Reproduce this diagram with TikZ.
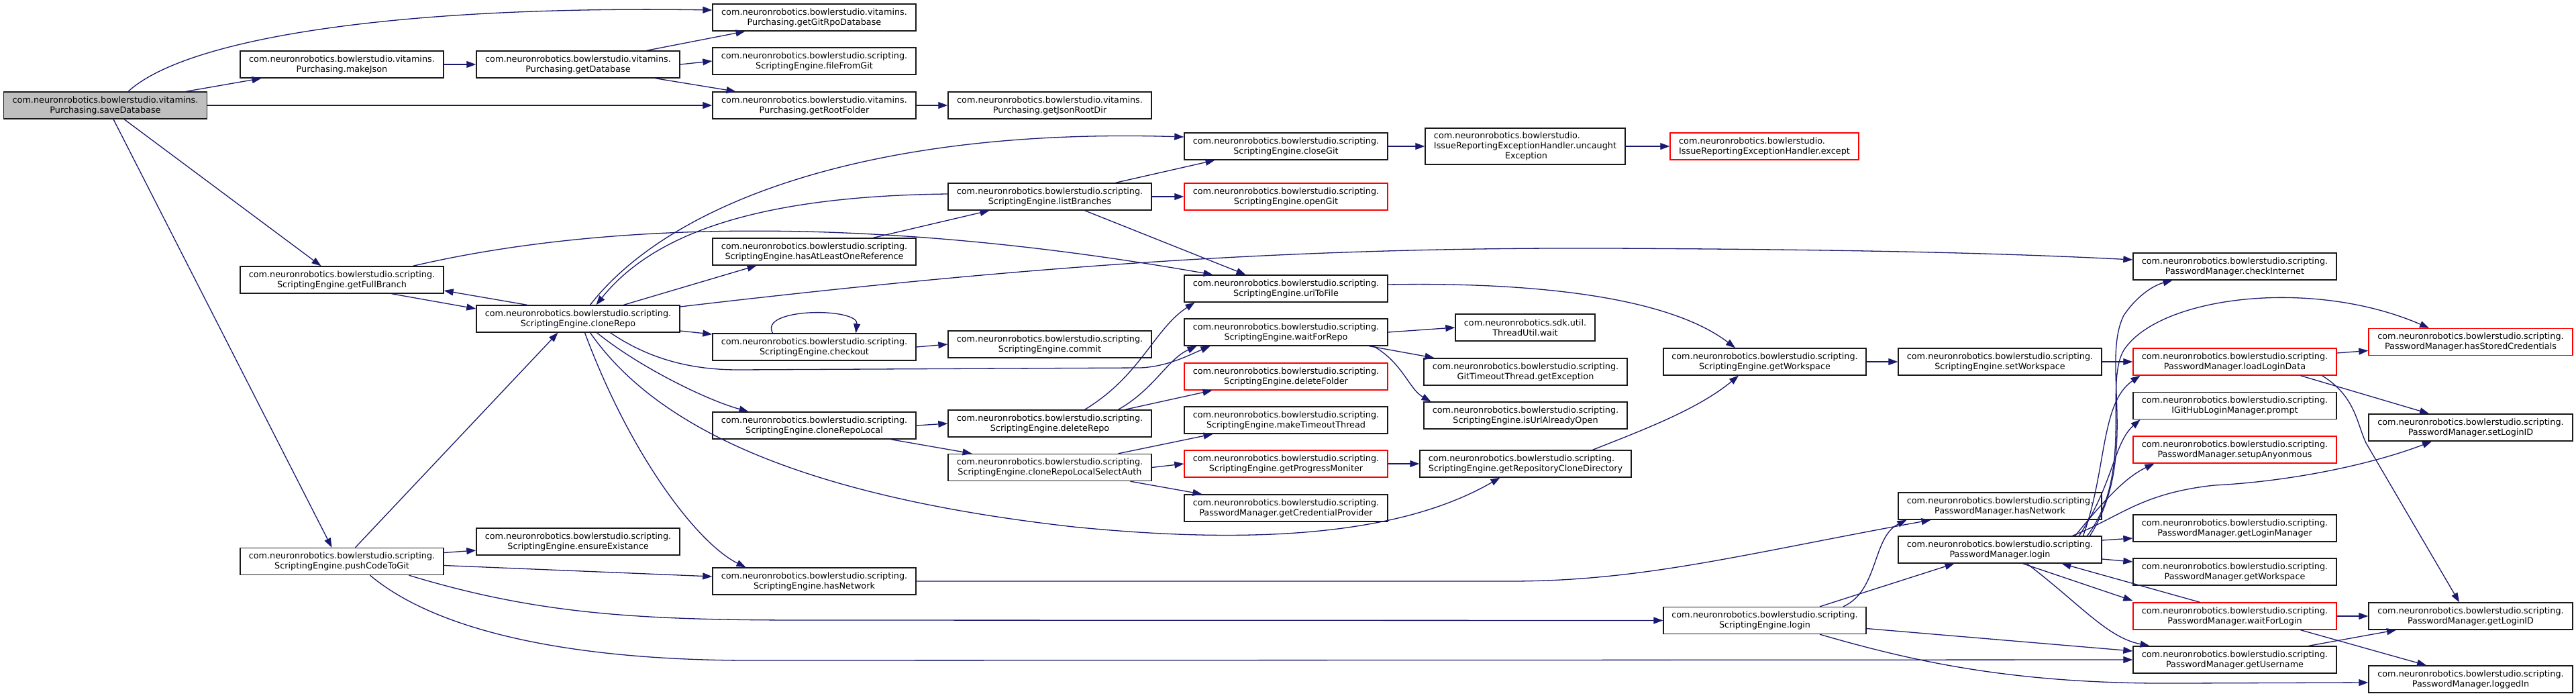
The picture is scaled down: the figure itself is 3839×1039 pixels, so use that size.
\documentclass[tikz,border=0pt]{standalone}
\usepackage{fontspec}
\setmainfont{DejaVu Sans}
\usepackage{tikz}
\usetikzlibrary{arrows.meta}
\definecolor{callblue}{HTML}{191970}
\definecolor{cutred}{HTML}{FF0000}
\definecolor{rootgray}{HTML}{BFBFBF}
\newcommand{\nrs}{com.neuronrobotics.bowlerstudio.scripting.}
\newcommand{\nrv}{com.neuronrobotics.bowlerstudio.vitamins.}

\begin{document}
\begin{tikzpicture}[x=1pt,y=-1pt,
  fn/.style={draw=black!90,fill=white,line width=1.4pt,minimum width=303pt,minimum height=40pt,inner sep=2pt,align=center,font=\fontsize{12.8}{15}\selectfont},
  cut/.style={fn,draw=cutred},
  call/.style={draw=callblue,line width=1.3pt,-{Triangle[length=14pt,width=10pt]}}]
\useasboundingbox (0,0) rectangle (3839,1039);
\node[fn,fill=rootgray] (sd) at (157,157) {\nrv\\Purchasing.saveDatabase};
\node[fn] (mj) at (509.5,96) {\nrv\\Purchasing.makeJson};
\node[fn] (gfb) at (509.5,417) {\nrs\\ScriptingEngine.getFullBranch};
\node[fn] (pc) at (509.5,836.5) {\nrs\\ScriptingEngine.pushCodeToGit};
\node[fn] (gdb) at (861.5,96) {\nrv\\Purchasing.getDatabase};
\node[fn] (cr) at (861.5,475) {\nrs\\ScriptingEngine.cloneRepo};
\node[fn] (ee) at (861.5,807) {\nrs\\ScriptingEngine.ensureExistance};
\node[fn] (grd) at (1213.5,26) {\nrv\\Purchasing.getGitRpoDatabase};
\node[fn] (ffg) at (1213.5,91) {\nrs\\ScriptingEngine.fileFromGit};
\node[fn] (grf) at (1213.5,157) {\nrv\\Purchasing.getRootFolder};
\node[fn] (hal) at (1213.5,375) {\nrs\\ScriptingEngine.hasAtLeastOneReference};
\node[fn] (co) at (1213.5,517) {\nrs\\ScriptingEngine.checkout};
\node[fn] (crl) at (1213.5,634) {\nrs\\ScriptingEngine.cloneRepoLocal};
\node[fn] (shn) at (1213.5,866) {\nrs\\ScriptingEngine.hasNetwork};
\node[fn] (gjr) at (1564.5,157) {\nrv\\Purchasing.getJsonRootDir};
\node[fn] (lb) at (1564.5,293) {\nrs\\ScriptingEngine.listBranches};
\node[fn] (cm) at (1564.5,513) {\nrs\\ScriptingEngine.commit};
\node[fn] (dr) at (1564.5,631) {\nrs\\ScriptingEngine.deleteRepo};
\node[fn] (csa) at (1564.5,696.5) {\nrs\\ScriptingEngine.cloneRepoLocalSelectAuth};
\node[fn] (cg) at (1916.5,218) {\nrs\\ScriptingEngine.closeGit};
\node[cut] (og) at (1916.5,293) {\nrs\\ScriptingEngine.openGit};
\node[fn] (utf) at (1916.5,430) {\nrs\\ScriptingEngine.uriToFile};
\node[fn] (wfr) at (1916.5,495) {\nrs\\ScriptingEngine.waitForRepo};
\node[cut] (df) at (1916.5,561) {\nrs\\ScriptingEngine.deleteFolder};
\node[fn] (mtt) at (1916.5,626) {\nrs\\ScriptingEngine.makeTimeoutThread};
\node[cut] (gpm) at (1916.5,691) {\nrs\\ScriptingEngine.getProgressMoniter};
\node[fn] (gcp) at (1916.5,757) {\nrs\\PasswordManager.getCredentialProvider};
\node[fn,minimum width=298pt,minimum height=54pt,align=left] (ue) at (2273,218) {com.neuronrobotics.bowlerstudio.\\IssueReportingExceptionHandler.uncaught\\\hspace*{106pt}Exception};
\node[fn,minimum width=208pt] (tw) at (2273,488) {com.neuronrobotics.sdk.util.\\ThreadUtil.wait};
\node[fn] (gex) at (2273.5,554) {\nrs\\GitTimeoutThread.getException};
\node[fn] (iuo) at (2273.5,619) {\nrs\\ScriptingEngine.isUrlAlreadyOpen};
\node[fn,minimum width=315pt,align=left] (grcd) at (2273.5,691) {\nrs\\ScriptingEngine.getRepositoryCloneDirectory};
\node[cut,minimum width=281pt,align=left] (exc) at (2629.5,218) {com.neuronrobotics.bowlerstudio.\\IssueReportingExceptionHandler.except};
\node[fn,minimum width=302pt] (sgw) at (2630,539) {\nrs\\ScriptingEngine.getWorkspace};
\node[fn,minimum width=302pt] (sel) at (2630,924.5) {\nrs\\ScriptingEngine.login};
\node[fn] (sws) at (2980.5,539) {\nrs\\ScriptingEngine.setWorkspace};
\node[fn] (pmhn) at (2980.5,754) {\nrs\\PasswordManager.hasNetwork};
\node[fn] (pml) at (2980.5,819) {\nrs\\PasswordManager.login};
\node[fn] (ci) at (3330.5,397) {\nrs\\PasswordManager.checkInternet};
\node[cut] (lld) at (3330.5,539) {\nrs\\PasswordManager.loadLoginData};
\node[fn] (pr) at (3330.5,604.5) {\nrs\\IGitHubLoginManager.prompt};
\node[cut] (sa) at (3330.5,670) {\nrs\\PasswordManager.setupAnyonmous};
\node[fn] (glm) at (3330.5,787) {\nrs\\PasswordManager.getLoginManager};
\node[fn] (pgw) at (3330.5,852) {\nrs\\PasswordManager.getWorkspace};
\node[cut] (wfl) at (3330.5,918) {\nrs\\PasswordManager.waitForLogin};
\node[fn] (gu) at (3330.5,983) {\nrs\\PasswordManager.getUsername};
\node[cut,minimum width=304pt] (hsc) at (3682,509.5) {\nrs\\PasswordManager.hasStoredCredentials};
\node[fn,minimum width=304pt] (sli) at (3682,637) {\nrs\\PasswordManager.setLoginID};
\node[fn,minimum width=304pt] (gli) at (3682,918) {\nrs\\PasswordManager.getLoginID};
\node[fn,minimum width=304pt] (li) at (3682,1012) {\nrs\\PasswordManager.loggedIn};

\draw[call] ([xshift=34pt]sd.north) .. controls (280,55) and (600,8) .. ([yshift=11pt]grd.west);
\draw[call] ([xshift=120pt]sd.north) -- ([xshift=-120pt]mj.south);
\draw[call] (sd.east) -- (grf.west);
\draw[call] ([xshift=28pt]sd.south) -- ([xshift=-31pt]gfb.north);
\draw[call] ([xshift=12pt]sd.south) -- ([xshift=-15pt]pc.north);
\draw[call] (mj.east) -- (gdb.west);
\draw[call] ([xshift=102pt]gdb.north) -- ([xshift=-103pt]grd.south);
\draw[call] (gdb.east) -- (ffg.west);
\draw[call] ([xshift=115pt]gdb.south) -- ([xshift=-117pt]grf.north);
\draw[call] (grf.east) -- (gjr.west);
\draw[call] ([xshift=74pt]gfb.south) -- ([yshift=15pt]cr.west);
\draw[call] ([xshift=-76pt]cr.north) -- ([yshift=-16pt]gfb.east);
\draw[call] ([xshift=106pt]gfb.north) .. controls (900,330) and (1300,320) .. ([xshift=-109pt]utf.north);
\draw[call] ([xshift=18pt]cr.north) .. controls (1000,300) and (1300,190) .. ([yshift=14pt]cg.west);
\draw[call] ([yshift=4pt]lb.west) .. controls (1150,292) and (980,340) .. ([xshift=27pt]cr.north);
\draw[call] ([xshift=68pt]cr.north) -- ([xshift=-86pt]hal.south);
\draw[call] ([xshift=88pt]hal.north) -- ([xshift=-90pt]lb.south);
\draw[call] ([xshift=98pt]lb.north) -- ([xshift=-106pt]cg.south);
\draw[call] (lb.east) -- (og.west);
\draw[call] ([xshift=52pt]lb.south) -- ([xshift=-60pt]utf.north);
\draw[call] ([yshift=18pt]cr.east) .. controls (1500,400) and (1900,368) .. (2400,370) .. controls (2800,372) and (3000,378) .. ([yshift=10pt]ci.west);
\draw[call] ([yshift=-18pt]cr.east) -- ([yshift=19pt]co.west);
\draw[call] ([xshift=-62pt]co.north) .. controls (1130,458) and (1280,458) .. ([xshift=62pt]co.north);
\draw[call] (co.east) -- (cm.west);
\draw[call] ([xshift=48pt]cr.south) .. controls (960,530) and (1020,551) .. (1100,551) -- (1700,548) .. controls (1740,546) and (1770,530) .. ([xshift=-113pt]wfr.south);
\draw[call] ([xshift=28pt]cr.south) .. controls (950,545) and (1050,595) .. ([xshift=-98pt]crl.north);
\draw[call] ([xshift=18pt]cr.south) .. controls (980,640) and (1200,740) .. (1600,785) .. controls (1900,815) and (2100,790) .. ([xshift=-38pt]grcd.south);
\draw[call] ([xshift=10pt]cr.south) .. controls (940,680) and (1040,810) .. ([xshift=-102pt]shn.north);
\draw[call] ([xshift=20pt]pc.north) -- ([xshift=-30pt]cr.south);
\draw[call] ([yshift=13pt]pc.east) -- ([yshift=-13pt]ee.west);
\draw[call] ([yshift=-6pt]pc.east) -- ([yshift=7pt]shn.west);
\draw[call] ([xshift=100pt]pc.south) .. controls (800,915) and (950,924) .. (1200,924) -- (sel.west);
\draw[call] ([xshift=42pt]pc.south) .. controls (650,940) and (850,985) .. (1130,984) -- (gu.west);
\draw[call] (shn.east) -- (2250,866) .. controls (2450,866) and (2600,825) .. ([xshift=-103pt]pmhn.south);
\draw[call] ([xshift=117pt]sel.north) .. controls (2800,880) and (2790,800) .. ([xshift=-139pt]pmhn.south);
\draw[call] ([xshift=82pt]sel.north) -- ([xshift=-68pt]pml.south);
\draw[call] ([yshift=-12pt]sel.east) -- ([yshift=13pt]gu.west);
\draw[call] ([xshift=82pt]sel.south) .. controls (2850,985) and (3000,1020) .. (3250,1018) -- ([yshift=-5pt]li.west);
\draw[call] ([xshift=134pt]pml.north) .. controls (3190,680) and (3130,540) .. (3165,470) .. controls (3185,440) and (3210,425) .. ([xshift=-93pt]ci.south);
\draw[call] ([xshift=130pt]pml.north) .. controls (3185,700) and (3130,560) .. (3170,515) .. controls (3230,440) and (3450,415) .. ([xshift=-62pt]hsc.north);
\draw[call] ([xshift=124pt]pml.north) .. controls (3140,700) and (3130,600) .. ([xshift=-141pt]lld.south);
\draw[call] ([xshift=118pt]pml.north) .. controls (3150,720) and (3150,660) .. ([xshift=-141pt]pr.south);
\draw[call] ([xshift=112pt]pml.north) .. controls (3140,740) and (3170,710) .. ([xshift=-120pt]sa.south);
\draw[call] ([xshift=108pt]pml.north) .. controls (3160,770) and (3190,735) .. (3300,723) .. controls (3420,717) and (3540,690) .. ([xshift=-58pt]sli.south);
\draw[call] ([yshift=14pt]pml.east) -- ([yshift=-15pt]glm.west);
\draw[call] ([yshift=-14pt]pml.east) -- ([yshift=15pt]pgw.west);
\draw[call] ([xshift=34pt]pml.south) -- ([yshift=23pt]wfl.west);
\draw[call] ([xshift=40pt]pml.south) .. controls (3100,900) and (3140,950) .. ([xshift=-127pt]gu.north);
\draw[call] ([xshift=-52pt]wfl.north) -- ([xshift=92pt]pml.south);
\draw[call] ([yshift=13pt]lld.east) -- ([yshift=-13pt]hsc.west);
\draw[call] ([xshift=98pt]lld.south) -- ([xshift=-62pt]sli.north);
\draw[call] ([xshift=130pt]lld.south) .. controls (3510,590) and (3512,630) .. (3526,660) -- ([xshift=-17pt]gli.north);
\draw[call] (wfl.east) -- (gli.west);
\draw[call] ([xshift=98pt]wfl.south) -- ([xshift=-66pt]li.north);
\draw[call] ([xshift=110pt]gu.north) -- ([xshift=-111pt]gli.south);
\draw[call] (sws.east) -- (lld.west);
\draw[call] (sgw.east) -- (sws.west);
\draw[call] ([yshift=6pt]utf.east) .. controls (2300,420) and (2490,445) .. ([xshift=-44pt]sgw.north);
\draw[call] ([xshift=100pt]grcd.north) .. controls (2450,640) and (2530,610) .. ([xshift=-39pt]sgw.south);
\draw[call] (gpm.east) -- (grcd.west);
\draw[call] (csa.east) -- (gpm.west);
\draw[call] ([xshift=102pt]csa.north) -- ([xshift=-109pt]mtt.south);
\draw[call] ([xshift=120pt]csa.south) -- ([xshift=-125pt]gcp.north);
\draw[call] (crl.east) -- (dr.west);
\draw[call] ([xshift=114pt]crl.south) -- ([xshift=-116pt]csa.north);
\draw[call] ([xshift=52pt]dr.north) .. controls (1700,560) and (1720,490) .. ([xshift=-136pt]utf.south);
\draw[call] ([xshift=102pt]dr.north) .. controls (1720,580) and (1740,535) .. ([xshift=-133pt]wfr.south);
\draw[call] ([xshift=112pt]dr.north) -- ([xshift=-110pt]df.south);
\draw[call] (wfr.east) -- (tw.west);
\draw[call] ([xshift=124pt]wfr.south) -- ([xshift=-136pt]gex.north);
\draw[call] ([xshift=130pt]wfr.south) .. controls (2090,540) and (2100,580) .. ([xshift=-141pt]iuo.north);
\draw[call] (cg.east) -- (ue.west);
\draw[call] (ue.east) -- (exc.west);
\end{tikzpicture}
\end{document}
